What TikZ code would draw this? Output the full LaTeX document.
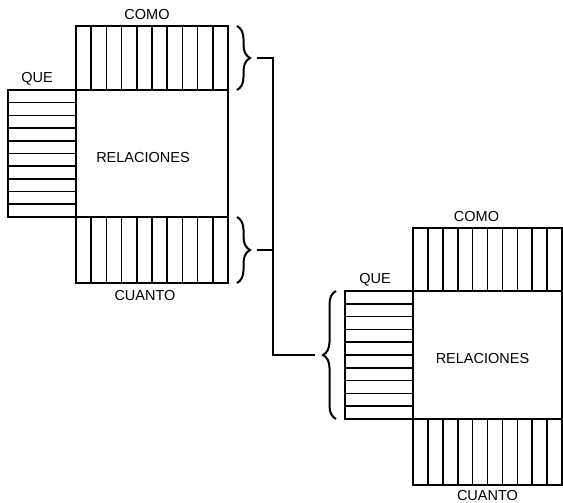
\documentclass[tikz,border=0pt]{standalone}
\usepackage{fontspec}
\setmainfont{Liberation Sans}
\usetikzlibrary{positioning,calc,decorations.pathreplacing}
\tikzset{
  relbox/.style={draw, line width=1.8pt, minimum width=150pt, minimum height=128pt,
                 inner sep=0pt, outer sep=0pt},
  colstrip/.style={draw, line width=1.8pt, minimum width=150pt, minimum height=64pt,
                   inner sep=0pt, outer sep=0pt},
  rowstrip/.style={draw, line width=1.8pt, minimum width=68pt, minimum height=128pt,
                   inner sep=0pt, outer sep=0pt},
  lbl/.style={font=\fontsize{14.5}{16}\selectfont, inner sep=0pt},
  brc/.style={decorate, decoration={brace, amplitude=13pt}, line width=2pt},
  lnk/.style={line width=1.6pt},
  split/.style={line width=1.6pt}
}
\newcommand\colsplit[1]{%
  \foreach \i in {1,...,9}
    \draw[split] ($(#1.north west)!\i/10!(#1.north east)$) -- ($(#1.south west)!\i/10!(#1.south east)$);}
\newcommand\rowsplit[1]{%
  \foreach \i in {1,...,9}
    \draw[split] ($(#1.north west)!\i/10!(#1.south west)$) -- ($(#1.north east)!\i/10!(#1.south east)$);}

\begin{document}
\begin{tikzpicture}[x=1pt, y=-1pt]
\useasboundingbox (0,0) rectangle (563,503);
% first block
\node[relbox, minimum width=152pt, minimum height=127pt] (rel1) at (152,153.5) {};
\node[colstrip, minimum width=152pt, above=0pt of rel1] (como1) {};
\node[colstrip, minimum width=152pt, minimum height=66pt, below=0pt of rel1] (cuanto1) {};
\node[rowstrip, minimum height=127pt, left=0pt of rel1] (que1) {};
\colsplit{como1}\colsplit{cuanto1}\rowsplit{que1}
\node[lbl] (relt1) at ($(rel1.center)+(-9,4)$) {RELACIONES};
\node[lbl, above=6pt of como1, xshift=-5pt] (comot1) {COMO};
\node[lbl, below=7pt of cuanto1, xshift=-7pt] (cuantot1) {CUANTO};
\node[lbl, above=5pt of que1, xshift=-5pt] (quet1) {QUE};
% second block
\node[relbox, minimum width=149pt] (rel2) at (487.5,355) {};
\node[colstrip, minimum width=149pt, minimum height=63pt, above=0pt of rel2] (como2) {};
\node[colstrip, minimum width=149pt, minimum height=66pt, below=0pt of rel2] (cuanto2) {};
\node[rowstrip, left=0pt of rel2] (que2) {};
\colsplit{como2}\colsplit{cuanto2}\rowsplit{que2}
\node[lbl] (relt2) at ($(rel2.center)+(-5,4)$) {RELACIONES};
\node[lbl, above=6pt of como2, xshift=-11pt] (comot2) {COMO};
\node[lbl, below=5pt of cuanto2] (cuantot2) {CUANTO};
\node[lbl, above=5pt of que2, xshift=-4pt] (quet2) {QUE};
% braces
\draw[brc] ($(como1.north east)+(9,0)$) -- ($(como1.south east)+(9,0)$);
\draw[brc] ($(cuanto1.north east)+(9,0)$) -- ($(cuanto1.south east)+(9,0)$);
\draw[brc] ($(que2.south west)+(-9,0)$) -- ($(que2.north west)+(-9,0)$);
% links
\coordinate (tip1) at ($(como1.east)+(29,0)$);
\coordinate (tip2) at ($(cuanto1.east)+(29,0)$);
\coordinate (tip3) at ($(que2.west)+(-30,0)$);
\coordinate (spine) at (273,0);
\draw[lnk] (tip1) -| (spine |- tip3) -- (tip3);
\draw[lnk] (tip2) -- (tip2 -| spine);
\end{tikzpicture}
\end{document}
